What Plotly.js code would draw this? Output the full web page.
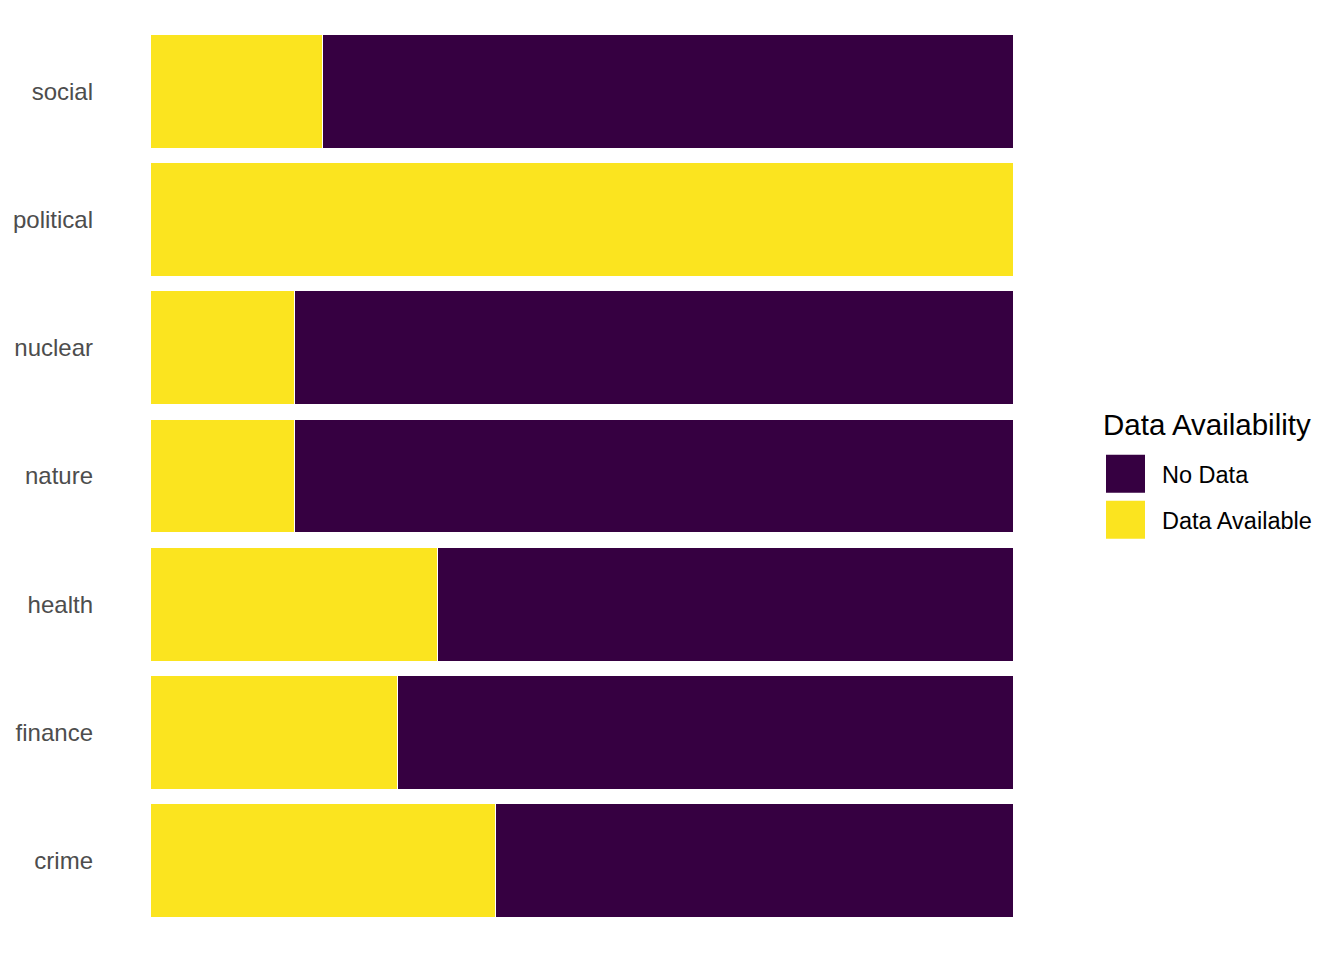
<!DOCTYPE html>
<html>
<head>
<meta charset="utf-8">
<script src="https://cdn.plot.ly/plotly-3.0.1.min.js"></script>
<style>html,body{margin:0;padding:0;background:#fff;}#chart{width:1344px;height:960px;}</style>
</head>
<body>
<div id="chart"></div>
<script>
// Data (bottom to top)
const categories = ["crime", "finance", "health", "nature", "nuclear", "political", "social"];
const dataAvailable = [0.40, 0.286, 0.333, 0.167, 0.167, 1.0, 0.20];
const noData = dataAvailable.map(v => 1 - v);
const seriesNames = ["No Data", "Data Available"];
const seriesColors = ["#360041", "#FBE41F"];
const legendTitle = "Data Availability";

const font = "Liberation Sans, Arial, Helvetica, sans-serif";

const traces = [
  {
    type: "bar", orientation: "h", name: seriesNames[1],
    y: categories, x: dataAvailable,
    marker: {color: seriesColors[1], line: {color: "#ffffff", width: 1.2}},
    hoverinfo: "skip", showlegend: false
  },
  {
    type: "bar", orientation: "h", name: seriesNames[0],
    y: categories, x: noData,
    marker: {color: seriesColors[0], line: {color: "#ffffff", width: 1.2}},
    hoverinfo: "skip", showlegend: false
  }
];

// custom legend built from names/colors
const shapes = [];
const annotations = [{
  xref: "paper", yref: "paper", x: (1101 - 150) / 864, y: 1 - (425 - 27) / 898.3, xanchor: "left", yanchor: "middle",
  text: legendTitle, showarrow: false, font: {family: font, size: 29.5, color: "#000"}
}];
seriesNames.forEach((n, i) => {
  const yTop = 455 + i * 46;
  shapes.push({
    type: "rect", xref: "paper", yref: "paper",
    x0: (1106 - 150) / 864, x1: (1145 - 150) / 864,
    y0: 1 - (yTop - 27) / 898.3, y1: 1 - (yTop + 38 - 27) / 898.3,
    fillcolor: seriesColors[i], line: {width: 0}
  });
  annotations.push({
    xref: "paper", yref: "paper", x: (1160 - 150) / 864, y: 1 - (yTop + 20 - 27) / 898.3,
    xanchor: "left", yanchor: "middle", text: n, showarrow: false,
    font: {family: font, size: 23.5, color: "#000"}
  });
});

const layout = {
  width: 1344, height: 960,
  margin: {l: 150, r: 330, t: 27, b: 35},
  paper_bgcolor: "#ffffff", plot_bgcolor: "#ffffff",
  barmode: "stack", bargap: 0.11,
  showlegend: false,
  xaxis: {range: [0, 1], showgrid: false, zeroline: false, showticklabels: false, ticks: "", showline: false, fixedrange: true},
  yaxis: {
    type: "category", categoryorder: "array", categoryarray: categories,
    range: [-0.5, 6.5], showgrid: false, zeroline: false, showline: false, ticks: "",
    ticklabelstandoff: 56,
    tickfont: {family: font, size: 24, color: "#4d4d4d"}, fixedrange: true
  },
  shapes: shapes,
  annotations: annotations
};

Plotly.newPlot("chart", traces, layout, {displayModeBar: false, staticPlot: true});
</script>
</body>
</html>
